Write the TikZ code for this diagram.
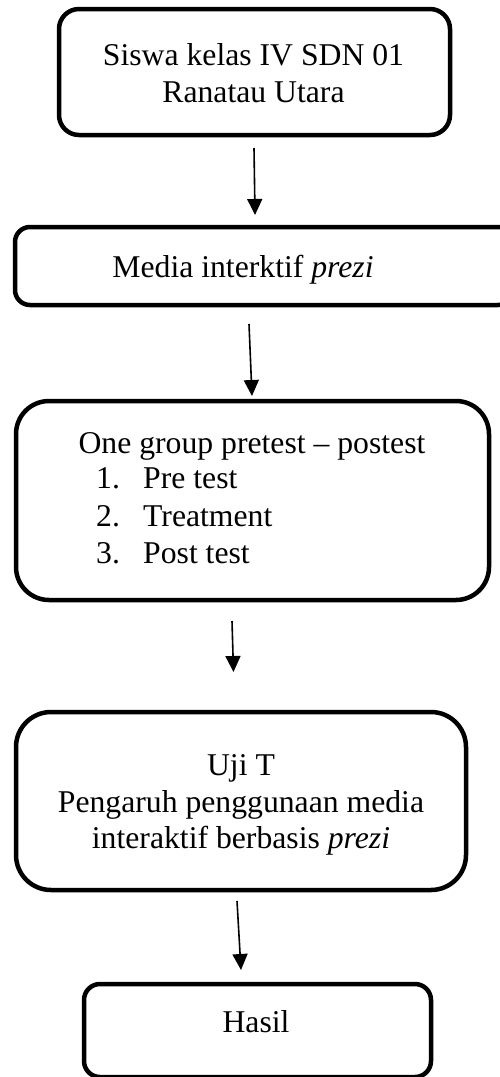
\documentclass[tikz,border=0pt]{standalone}
\usepackage{fontspec}
\setmainfont{Liberation Serif}
\usetikzlibrary{arrows.meta}
\begin{document}
\begin{tikzpicture}[x=1pt,y=-1pt,
  box/.style={draw, line width=4.5pt, rectangle, inner sep=0pt},
  txt/.style={anchor=base, inner sep=0pt, font=\fontsize{31.7}{37.5}\selectfont},
  arr/.style={line width=1.6pt, -{Triangle[length=16pt,width=15pt]}}]
\useasboundingbox (0,0) rectangle (499,1077);
% boxes
\node[box, minimum width=391, minimum height=126, rounded corners=20] (b1) at (254.5,72) {};
\node[box, minimum width=498, minimum height=78, rounded corners=15] (b2) at (264,266) {};
\node[box, minimum width=473, minimum height=199, rounded corners=33] (b3) at (252.5,500.5) {};
\node[box, minimum width=450, minimum height=178, rounded corners=35] (b4) at (241,801) {};
\node[box, minimum width=347, minimum height=93, rounded corners=16] (b5) at (257.5,1030.5) {};
% texts
\node[txt] (t1a) at (253.5,65) {Siswa kelas IV SDN 01};
\node[txt] (t1b) at (253.5,102) {Ranatau Utara};
\node[txt] (t2) at (243,277) {Media interktif \textit{prezi}};
\node[txt] (t3) at (252,453) {One group pretest – postest};
\node[txt, anchor=base west] (n1) at (96,488) {1.};
\node[txt, anchor=base west] (i1) at (143,488) {Pre test};
\node[txt, anchor=base west] (n2) at (96,526) {2.};
\node[txt, anchor=base west] (i2) at (143,526) {Treatment};
\node[txt, anchor=base west] (n3) at (96,563) {3.};
\node[txt, anchor=base west] (i3) at (143,563) {Post test};
\node[txt] (t4a) at (241,775) {Uji T};
\node[txt] (t4b) at (241,812) {Pengaruh penggunaan media};
\node[txt] (t4c) at (241,848) {interaktif berbasis \textit{prezi}};
\node[txt] (t5) at (256,1032) {Hasil};
% arrow ends
\coordinate (a1s) at (254,148); \coordinate (a1e) at (255,215);
\coordinate (a2s) at (249,324); \coordinate (a2e) at (252,396);
\coordinate (a3s) at (232,621); \coordinate (a3e) at (233.5,672);
\coordinate (a4s) at (237,901); \coordinate (a4e) at (241,970);
\draw[arr] (a1s) -- (a1e);
\draw[arr] (a2s) -- (a2e);
\draw[arr] (a3s) -- (a3e);
\draw[arr] (a4s) -- (a4e);
\end{tikzpicture}
\end{document}
